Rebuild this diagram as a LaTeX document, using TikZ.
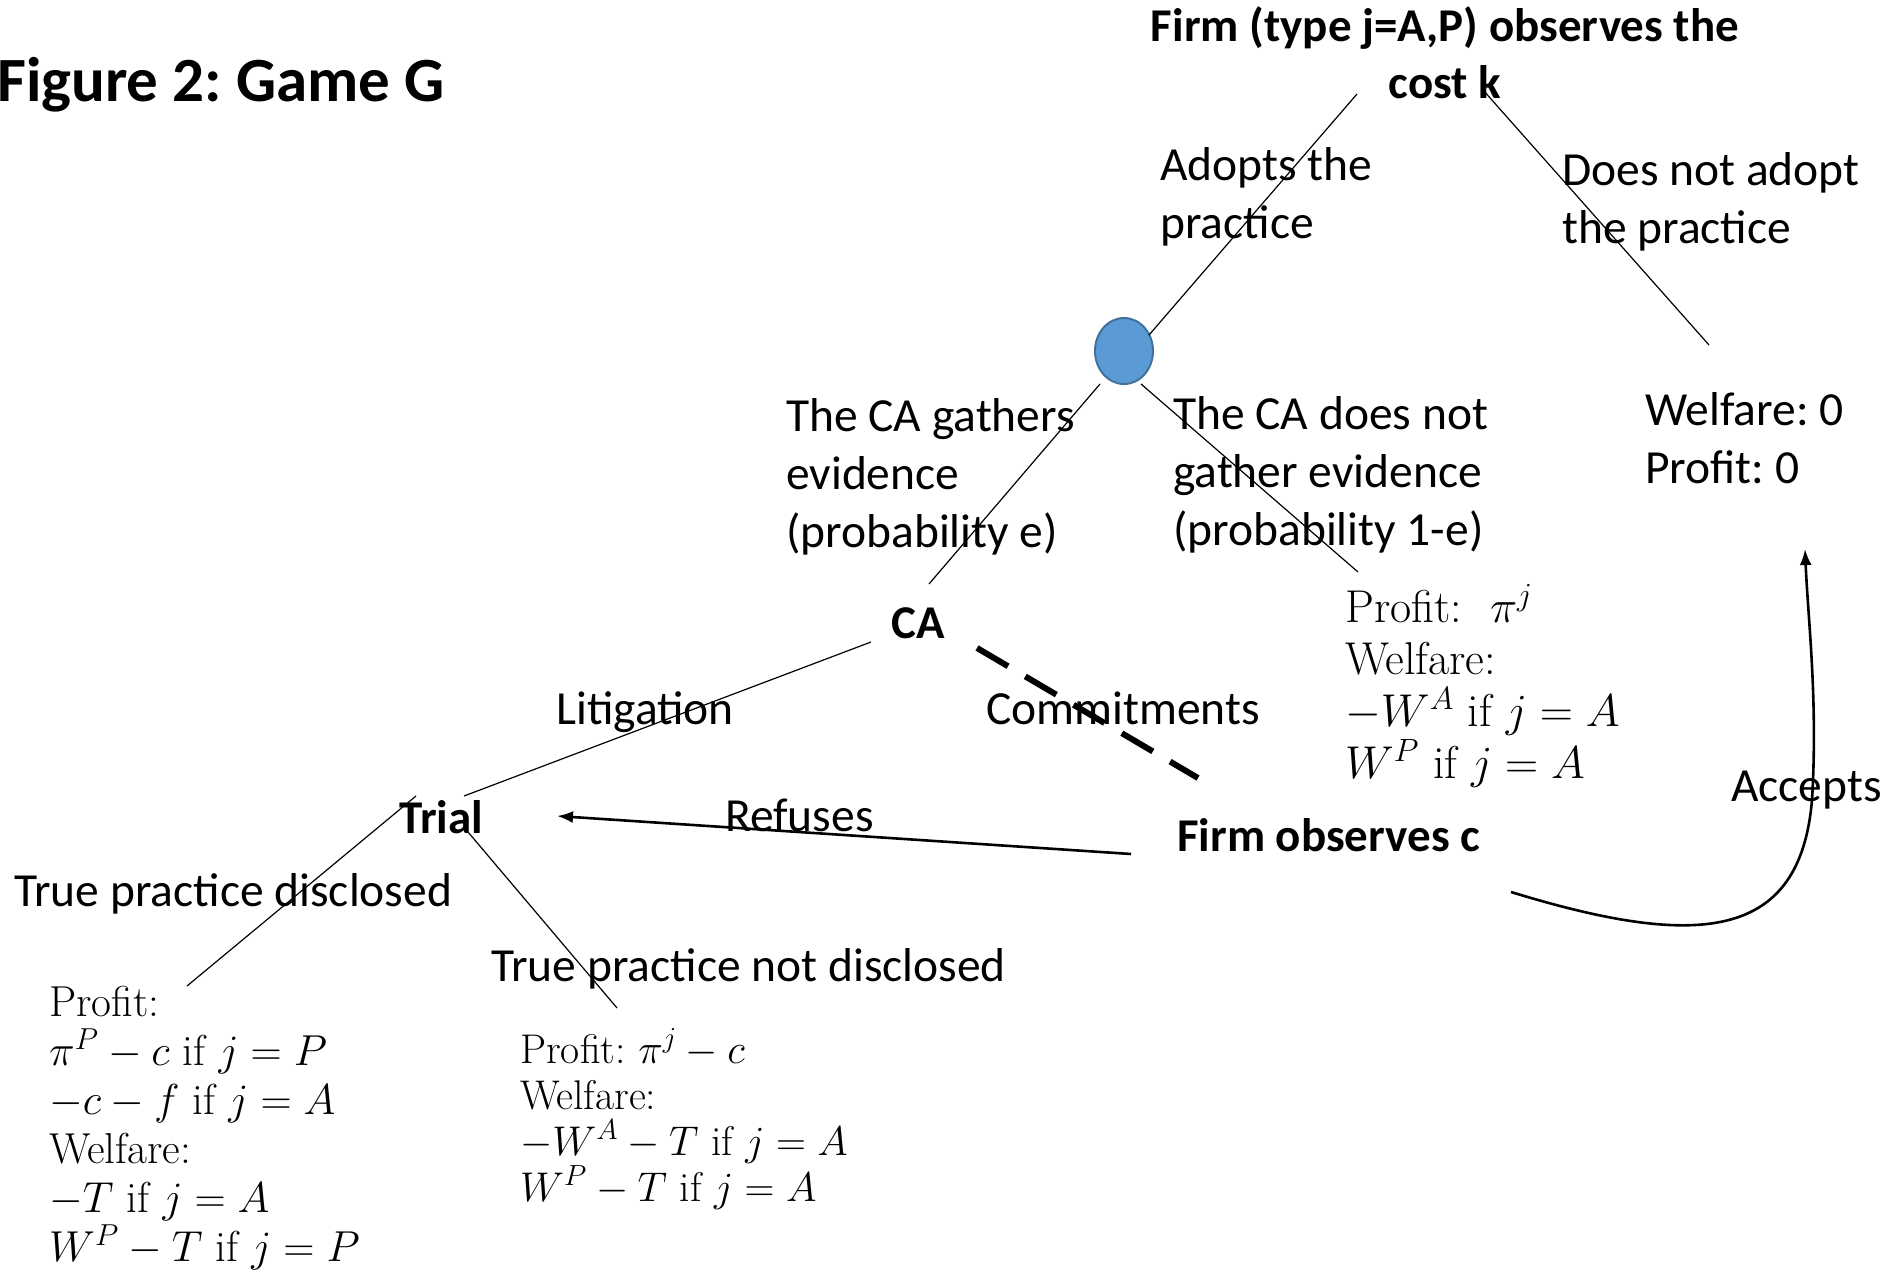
\RequirePackage{fix-cm}
\documentclass[tikz,border=0pt]{standalone}
\usepackage{fontspec}
\newfontfamily\calib{Carlito}
\usetikzlibrary{shapes.geometric,arrows.meta}
\definecolor{chancefill}{HTML}{5B9BD5}
\definecolor{chanceline}{HTML}{41719C}
\begin{document}
\frenchspacing
\begin{tikzpicture}[x=1pt,y=-1pt,
  lbl/.style={font=\calib\fontsize{47.5}{58}\selectfont, inner sep=0pt, anchor=base west, align=left},
  bld/.style={font=\calib\bfseries\fontsize{47}{57}\selectfont, inner sep=0pt, anchor=base west},
  payoff/.style={inner sep=0pt, anchor=base west, align=left},
  branch/.style={line width=1.2pt},
  moveto/.style={line width=2.6pt, -{Latex[length=16pt,width=12pt]}},
  commit/.style={line width=6pt, dash pattern=on 36pt off 20pt},
]
\useasboundingbox (0,0) rectangle (1891,1271);

% title
\node[font=\calib\bfseries\fontsize{63}{76}\selectfont, inner sep=0pt, anchor=base west] (title) at (-3,102) {Figure 2: Game G};

% decision nodes
\node[bld, align=center, anchor=base] (firmk) at (1445,99) {Firm (type j=A,P) observes the\\cost k};
\node[ellipse, draw=chanceline, fill=chancefill, line width=2pt, minimum width=58pt, minimum height=66pt, inner sep=0pt] (chance) at (1124,351) {};
\node[bld, anchor=base] (ca) at (918,638) {CA};
\node[bld] (trial) at (399,833) {Trial};
\node[bld] (firmc) at (1177,851) {Firm observes c};

% branch labels (anchor = baseline of last line)
\node[lbl] (adopt) at (1160,238) {Adopts the\\practice};
\node[lbl] (noadopt) at (1562,243) {Does not adopt\\the practice};
\node[lbl] (gather) at (786,547) {The CA gathers\\evidence\\(probability e)};
\node[lbl] (nogather) at (1173,545) {The CA does not\\gather evidence\\(probability 1-e)};
\node[lbl] (zero) at (1645,483) {Welfare: 0\\Profit: 0};
\node[lbl] (litig) at (556,724) {Litigation};
\node[lbl] (commitlbl) at (986,724) {Commitments};
\node[lbl] (refuse) at (725,831) {Refuses};
\node[lbl] (accept) at (1731,801) {Accepts};
\node[lbl] (disc) at (14,906) {True practice disclosed};
\node[lbl] (nodisc) at (491,981) {True practice not disclosed};

% payoffs
\node[payoff, font=\fontsize{46}{52}\selectfont] (payR) at (1345,778) {Profit:\ \ $\pi^j$\\Welfare:\\$-W^A$\ if $j=A$\\$W^P$\ if $j=A$};
\node[payoff, font=\fontsize{43.3}{49}\selectfont] (payL) at (49,1261) {Profit:\\$\pi^P-c$ if $j=P$\\$-c-f$ if $j=A$\\Welfare:\\$-T$ if $j=A$\\$W^P-T$ if $j=P$};
\node[payoff, font=\fontsize{41.5}{46}\selectfont] (payM) at (520,1201) {Profit: $\pi^j-c$\\Welfare:\\$-W^A-T$ if $j=A$\\$W^P-T$ if $j=A$};

% connector end points
\coordinate (k1) at (1357,94);
\coordinate (k2) at (1483,90);
\coordinate (ch1) at (1149,335);
\coordinate (z1) at (1709,345);
\coordinate (ch2) at (1100,384);
\coordinate (ca1) at (929,584);
\coordinate (ch3) at (1141,384);
\coordinate (r1) at (1358,572);
\coordinate (ca2) at (871,642);
\coordinate (t1) at (464,796);
\coordinate (ca3) at (977,648);
\coordinate (fc1) at (1198,778);
\coordinate (t2) at (416,796);
\coordinate (l1) at (187,986);
\coordinate (t3) at (468,832);
\coordinate (m1) at (617,1008);
\coordinate (fc2) at (1131,854);
\coordinate (t4) at (557,816);
\coordinate (fc3) at (1511,892);
\coordinate (z2) at (1805,549);

% connectors
\draw[branch] (k1) -- (ch1);
\draw[branch] (k2) -- (z1);
\draw[branch] (ch2) -- (ca1);
\draw[branch] (ch3) -- (r1);
\draw[branch] (ca2) -- (t1);
\draw[commit] (ca3) -- (fc1);
\draw[branch] (t2) -- (l1);
\draw[branch] (t3) -- (m1);
\draw[moveto] (fc2) -- (t4);
\draw[moveto] (fc3) .. controls (1700,950) and (1800,940) .. (1812,800) .. controls (1818,700) and (1808,620) .. (z2);
\end{tikzpicture}
\end{document}
